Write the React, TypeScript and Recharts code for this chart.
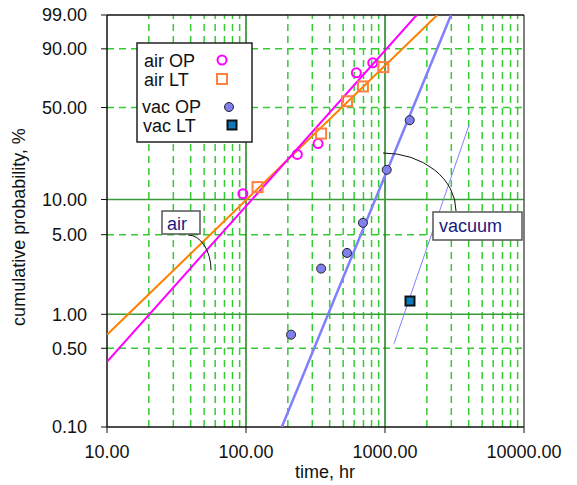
import { ComposedChart, Scatter, XAxis, YAxis, ReferenceLine } from 'recharts'

// Weibull probability paper: y = ln(-ln(1 - F))
const weib = (pct: number) => Math.log(-Math.log(1 - pct / 100))
const unweib = (w: number) => (1 - Math.exp(-Math.exp(w))) * 100

// measured points (time in hr, cumulative probability in %)
const airOpTime = [95, 234, 330, 622, 816]
const airOpProb = [11.2, 23.3, 28.2, 75.6, 82.3]
const airLtTime = [121, 347, 533, 694, 972]
const airLtProb = [12.7, 33.4, 54.5, 65.6, 79.5]
const vacOpTime = [211, 347, 533, 694, 1029, 1506]
const vacOpProb = [0.66, 2.53, 3.47, 6.33, 17.6, 41.4]
const vacLtTime = [1513]
const vacLtProb = [1.31]

// fitted lines (end points)
const airOpFitTime = [10, 1690]
const airOpFitProb = [0.38, 99]
const airLtFitTime = [10, 2378]
const airLtFitProb = [0.66, 99]
const vacOpFitTime = [181, 2985]
const vacOpFitProb = [0.1, 99]
const vacLtFitTime = [1161, 4019]
const vacLtFitProb = [0.55, 38.2]

const xTicks = [10, 100, 1000, 10000]
const yTicks = [0.1, 0.5, 1, 5, 10, 50, 90, 99]
const xMinor = [20, 30, 40, 50, 60, 70, 80, 90, 200, 300, 400, 500, 600, 700, 800, 900, 2000, 3000, 4000, 5000, 6000, 7000, 8000, 9000]
const xMajor = [100, 1000]
const yDashed = [0.5, 5, 50, 90]
const ySolid = [1, 10]

const toPoints = (t: number[], p: number[]) => t.map((x, i) => ({ x, y: weib(p[i]) }))

const FONT = '"Liberation Sans", Arial, sans-serif'
const DASH = '#33cc33'

const OpenCircle = ({ cx, cy }: any) => (
  <circle cx={cx} cy={cy} r={4.5} fill="none" stroke="#ff00ff" strokeWidth={2} />
)
const OpenSquare = ({ cx, cy }: any) => (
  <rect x={cx - 5} y={cy - 5} width={10} height={10} fill="none" stroke="#ff8040" strokeWidth={2} />
)
const FilledCircle = ({ cx, cy }: any) => (
  <circle cx={cx} cy={cy} r={4.5} fill="#8080f0" stroke="#222" strokeWidth={1} />
)
const FilledSquare = ({ cx, cy }: any) => (
  <rect x={cx - 4.5} y={cy - 4.5} width={9} height={9} fill="#0d7ab8" stroke="#111" strokeWidth={2} />
)
const NoDot = () => <g />

export default function App() {
  return (
    <div style={{ position: 'absolute', left: 0, top: 0, width: 577, height: 485, fontFamily: FONT, background: '#fff' }}>
      <ComposedChart width={577} height={485} margin={{ top: 15, right: 53, bottom: 0, left: 0 }}>
        <XAxis
          type="number"
          dataKey="x"
          scale="log"
          domain={[10, 10000]}
          ticks={xTicks}
          interval={0}
          allowDataOverflow
          height={58}
          tickFormatter={(v: number) => v.toFixed(2)}
          tick={{ fontSize: 18, fill: '#111', fontFamily: FONT }}
          axisLine={{ stroke: '#111', strokeWidth: 1.5 }}
          tickLine={{ stroke: '#111' }}
          tickSize={6}
          tickMargin={12}
        />
        <YAxis
          type="number"
          dataKey="y"
          domain={[weib(0.1), weib(99)]}
          ticks={yTicks.map(weib)}
          interval={0}
          allowDataOverflow
          width={107}
          tickFormatter={(v: number) => unweib(v).toFixed(2)}
          tick={{ fontSize: 18, fill: '#111', fontFamily: FONT }}
          axisLine={{ stroke: '#111', strokeWidth: 1.5 }}
          tickLine={{ stroke: '#111' }}
          tickSize={6}
          tickMargin={14}
        />

        {xMinor.map((v) => (
          <ReferenceLine key={'xm' + v} x={v} stroke={DASH} strokeWidth={1.5} strokeDasharray="7 5" zIndex={-50} />
        ))}
        {yDashed.map((v) => (
          <ReferenceLine key={'yd' + v} y={weib(v)} stroke={DASH} strokeWidth={1.5} strokeDasharray="7 5" zIndex={-50} />
        ))}
        {xMajor.map((v) => (
          <ReferenceLine key={'xM' + v} x={v} stroke="#1a7f1a" strokeWidth={1.5} zIndex={-40} />
        ))}
        {ySolid.map((v) => (
          <ReferenceLine key={'yS' + v} y={weib(v)} stroke="#3a9a3a" strokeWidth={1.5} zIndex={-40} />
        ))}
        <ReferenceLine x={10000} stroke="#555" strokeWidth={1.5} zIndex={-30} />
        <ReferenceLine y={weib(99)} stroke="#111" strokeWidth={1.5} zIndex={-30} />

        <Scatter data={toPoints(airLtFitTime, airLtFitProb)} line={{ stroke: '#ff8000', strokeWidth: 2 }} shape={NoDot} legendType="none" isAnimationActive={false} />
        <Scatter data={toPoints(airOpFitTime, airOpFitProb)} line={{ stroke: '#ff00ff', strokeWidth: 2 }} shape={NoDot} legendType="none" isAnimationActive={false} />
        <Scatter data={toPoints(vacOpFitTime, vacOpFitProb)} line={{ stroke: '#8080ff', strokeWidth: 2.5 }} shape={NoDot} legendType="none" isAnimationActive={false} />
        <Scatter data={toPoints(vacLtFitTime, vacLtFitProb)} line={{ stroke: '#8080ff', strokeWidth: 1 }} shape={NoDot} legendType="none" isAnimationActive={false} />

        <Scatter name="air OP" data={toPoints(airOpTime, airOpProb)} shape={OpenCircle} isAnimationActive={false} />
        <Scatter name="air LT" data={toPoints(airLtTime, airLtProb)} shape={OpenSquare} isAnimationActive={false} />
        <Scatter name="vac OP" data={toPoints(vacOpTime, vacOpProb)} shape={FilledCircle} isAnimationActive={false} />
        <Scatter name="vac LT" data={toPoints(vacLtTime, vacLtProb)} shape={FilledSquare} isAnimationActive={false} />
      </ComposedChart>

      <svg width={577} height={485} style={{ position: 'absolute', left: 0, top: 0, pointerEvents: 'none' }} fontFamily={FONT}>
        {/* legend */}
        <rect x={137} y={43} width={115} height={99} fill="#fff" stroke="#222" strokeWidth={1.5} />
        <text x={144} y={67} fontSize={18} fill="#111">air OP</text>
        <OpenCircle cx={222} cy={60} />
        <text x={144} y={86} fontSize={18} fill="#111">air LT</text>
        <OpenSquare cx={222} cy={79} />
        <text x={142} y={113} fontSize={18} fill="#111">vac OP</text>
        <FilledCircle cx={229} cy={107} />
        <text x={143} y={132} fontSize={18} fill="#111">vac LT</text>
        <FilledSquare cx={232} cy={125} />

        {/* annotations */}
        <path d="M188,235 A23,35 0 0 1 211,270" fill="none" stroke="#111" strokeWidth={1} />
        <rect x={162} y={211} width={38} height={23} fill="#fff" stroke="#555" strokeWidth={1.5} />
        <text x={167} y={230} fontSize={18} fill="#1a1a80">air</text>

        <path d="M383,153 A73,58 0 0 1 456,211" fill="none" stroke="#111" strokeWidth={1} />
        <rect x={433} y={212} width={89} height={28} fill="#fff" stroke="#555" strokeWidth={1.5} />
        <text x={439} y={232} fontSize={18} fill="#1a1a80">vacuum</text>

        {/* axis titles */}
        <text x={325} y={478} fontSize={18} fill="#111" textAnchor="middle">time, hr</text>
        <text x={19} y={227} fontSize={18} fill="#111" textAnchor="middle" dominantBaseline="central" transform="rotate(-90 19 227)">
          cumulative probability, %
        </text>
      </svg>
    </div>
  )
}
